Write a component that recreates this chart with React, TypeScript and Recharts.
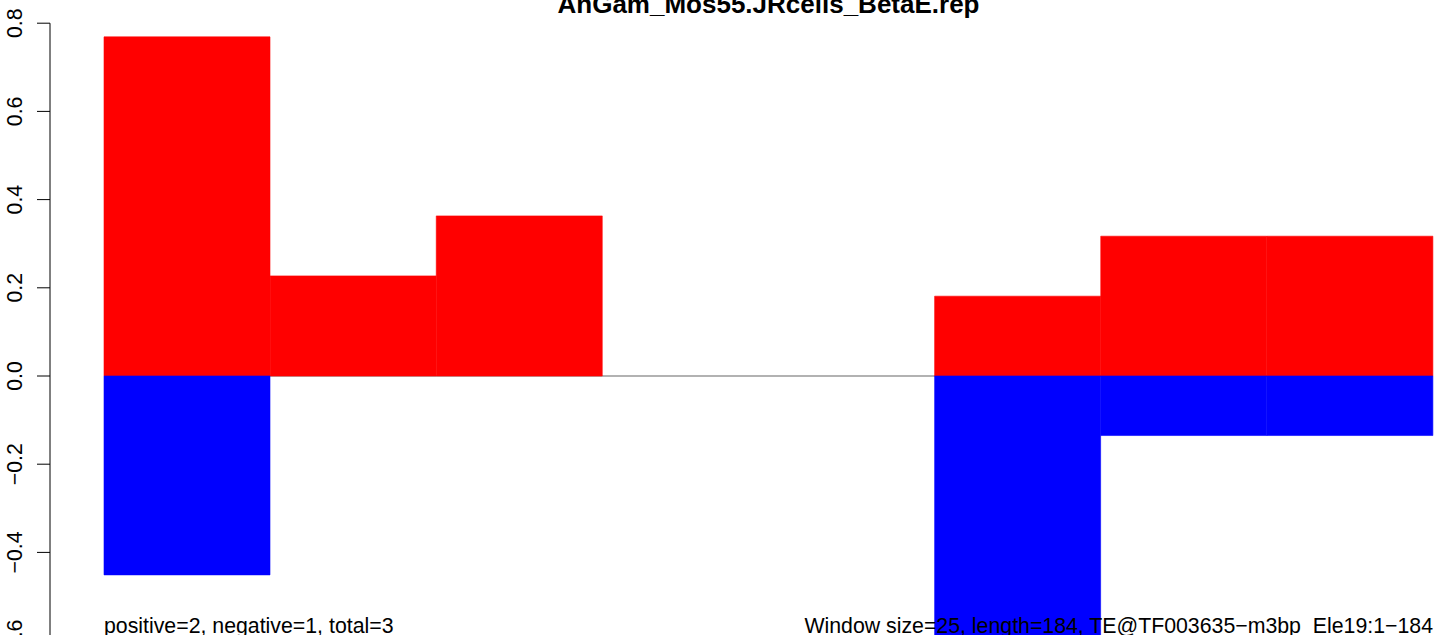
import React from "react";
import { BarChart, Bar, XAxis, YAxis, ReferenceLine } from "recharts";

const windows = ["1", "2", "3", "4", "5", "6", "7", "8"];
const positiveValues = [0.769, 0.227, 0.363, 0, 0, 0.181, 0.317, 0.317];
const negativeValues = [-0.451, 0, 0, 0, 0, -0.62, -0.135, -0.135];
const yTicks = [-0.6, -0.4, -0.2, 0, 0.2, 0.4, 0.6, 0.8];
const titleText = "AnGam_Mos55.JRcells_BetaE.rep";
const leftNote = "positive=2, negative=1, total=3";
const rightNote = "Window size=25, length=184, TE@TF003635\u2212m3bp_Ele19:1\u2212184";

const data = windows.map((w, i) => ({
  win: w,
  pos: positiveValues[i],
  neg: negativeValues[i],
}));

const FONT = "'Liberation Sans', Arial, Helvetica, sans-serif";

const fmt = (v: number) => v.toFixed(1).replace("-", "\u2212");

const YTick = (props: any) => {
  const { x, y, payload } = props;
  return (
    <text
      x={x}
      y={y}
      transform={`rotate(-90, ${x}, ${y})`}
      textAnchor="middle"
      fontSize={21.3}
      fontFamily={FONT}
      fill="#000"
    >
      {fmt(payload.value)}
    </text>
  );
};

export default function App() {
  return (
    <div
      style={{
        position: "fixed",
        left: 0,
        top: 0,
        width: 1449,
        height: 635,
        overflow: "hidden",
        background: "#fff",
      }}
    >
      <BarChart
        width={1449}
        height={685}
        data={data}
        stackOffset="sign"
        barCategoryGap={0}
        barGap={0}
        margin={{ top: 23.2, right: 0, left: 0, bottom: 0.3 }}
      >
        <XAxis
          dataKey="win"
          hide
          height={0}
          padding={{ left: 54, right: 16 }}
        />
        <YAxis
          width={50}
          domain={[-0.7, 0.8]}
          allowDataOverflow
          ticks={yTicks}
          interval={0}
          tickSize={13}
          tickMargin={15}
          tick={<YTick />}
          axisLine={{ stroke: "#000", strokeWidth: 1 }}
          tickLine={{ stroke: "#000", strokeWidth: 1 }}
        />
        <ReferenceLine
          segment={[
            { x: windows[0], y: 0 },
            { x: windows[windows.length - 1], y: 0 },
          ]}
          stroke="#666666"
          strokeWidth={1.2}
          zIndex={-50}
        />
        <Bar
          dataKey="pos"
          stackId="s"
          fill="#ff0000"
          stroke="#ff0000"
          strokeWidth={0.6}
          isAnimationActive={false}
        />
        <Bar
          dataKey="neg"
          stackId="s"
          fill="#0000ff"
          stroke="#0000ff"
          strokeWidth={0.6}
          isAnimationActive={false}
        />
      </BarChart>
      <svg
        width={1449}
        height={635}
        style={{ position: "absolute", left: 0, top: 0, pointerEvents: "none" }}
      >
        <text
          x={768.5}
          y={13}
          textAnchor="middle"
          fontSize={26}
          fontWeight="bold"
          fontFamily={FONT}
          fill="#000"
        >
          {titleText}
        </text>
        <text x={104} y={633} textAnchor="start" fontSize={21.3} fontFamily={FONT} fill="#000">
          {leftNote}
        </text>
        <text x={1433} y={633} textAnchor="end" fontSize={21.3} fontFamily={FONT} fill="#000">
          {rightNote}
        </text>
      </svg>
    </div>
  );
}
